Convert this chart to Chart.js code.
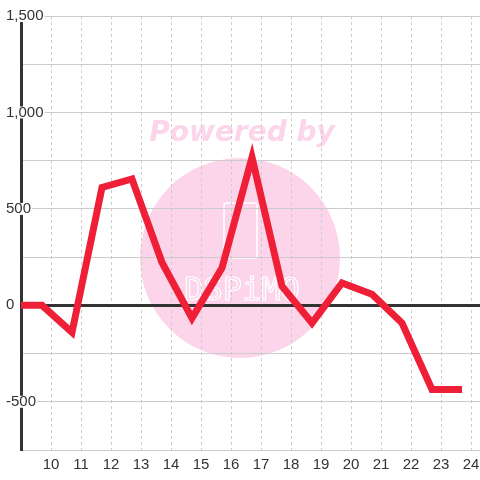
<!DOCTYPE html>
<html>
<head>
<meta charset="utf-8">
<style>
  html, body { margin: 0; padding: 0; background: #fff; }
  #wrap { width: 480px; height: 480px; }
</style>
<script src="https://cdn.jsdelivr.net/npm/chart.js@4.4.1/dist/chart.umd.min.js"></script>
</head>
<body>
<div id="wrap"><canvas id="chart" width="480" height="480"></canvas></div>
<script>
  // values
  const xValues = [9, 9.7, 10.7, 11.7, 12.7, 13.7, 14.7, 15.7, 16.7, 17.7, 18.7, 19.7, 20.7, 21.7, 22.7, 23.7];
  const yValues = [0, 0, -140, 611, 655, 222, -66, 194, 767, 99, -92, 116, 57, -92, -436, -436];
  const xTicks = [9, 10, 11, 12, 13, 14, 15, 16, 17, 18, 19, 20, 21, 22, 23, 24];
  const yTicks = [-750, -500, -250, 0, 250, 500, 750, 1000, 1250, 1500];
  const yLabelled = [-500, 0, 500, 1000, 1500];

  const LINE_COLOR = '#ee1f36';
  const TEXT_COLOR = '#333333';
  const GRID_COLOR = '#cccccc';
  const FONT = '"Liberation Sans", Arial, sans-serif';

  const watermark = {
    id: 'watermark',
    beforeDraw(chart) {
      const c = chart.ctx;
      c.save();
      c.fillStyle = '#fcd5ea';
      c.beginPath();
      c.arc(240, 258, 100, 0, Math.PI * 2);
      c.fill();
      c.font = 'italic bold 28px "DejaVu Sans"';
      c.textAlign = 'center';
      c.textBaseline = 'middle';
      c.fillText('Powered by', 242, 134);
      c.strokeStyle = '#ffffff';
      c.lineWidth = 1.5;
      c.beginPath();
      c.roundRect(224, 203, 33, 55, 3);
      c.stroke();
      c.font = '32px "DejaVu Sans Mono"';
      c.lineWidth = 1.2;
      c.strokeText('DSPiMO', 242, 292);
      c.restore();
    }
  };

  new Chart(document.getElementById('chart'), {
    type: 'line',
    data: {
      datasets: [{
        data: xValues.map((x, i) => ({ x, y: yValues[i] })),
        borderColor: LINE_COLOR,
        borderWidth: 7,
        borderJoinStyle: 'miter',
        borderCapStyle: 'butt',
        pointRadius: 0,
        tension: 0,
        fill: false,
      }],
    },
    options: {
      responsive: false,
      animation: false,
      events: [],
      layout: { padding: { left: 21, top: 16, right: 0, bottom: 0 } },
      plugins: { legend: { display: false }, tooltip: { enabled: false } },
      scales: {
        x: {
          type: 'linear',
          min: 9,
          max: 24.3,
          afterBuildTicks: s => { s.ticks = xTicks.map(v => ({ value: v })); },
          afterFit: s => { s.paddingLeft = 0; s.paddingRight = 0; },
          border: { display: false, dash: [3, 3] },
          grid: { color: GRID_COLOR, lineWidth: 1, drawTicks: false },
          ticks: {
            color: TEXT_COLOR,
            font: { family: FONT, size: 15 },
            padding: 6,
            maxRotation: 0,
            autoSkip: false,
            callback: v => (v === 9 ? '' : String(v)),
          },
        },
        y: {
          type: 'linear',
          min: -750,
          max: 1500,
          afterBuildTicks: s => { s.ticks = yTicks.map(v => ({ value: v })); },
          // mirrored labels: keep the axis box at zero width so the border sits at x=21
          afterFit: s => { s.width = 0; },
          border: { display: true, color: TEXT_COLOR, width: 3 },
          grid: {
            drawTicks: false,
            color: ctx => (ctx.tick && ctx.tick.value === 0 ? TEXT_COLOR : GRID_COLOR),
            lineWidth: ctx => (ctx.tick && ctx.tick.value === 0 ? 3 : 1),
          },
          ticks: {
            mirror: true,
            padding: -15,
            color: TEXT_COLOR,
            font: { family: FONT, size: 15 },
            showLabelBackdrop: ctx => yLabelled.includes(ctx.tick.value),
            backdropColor: '#ffffff',
            backdropPadding: { left: 1, right: 1, top: -3, bottom: -3 },
            autoSkip: false,
            callback: v => (yLabelled.includes(v) ? v.toLocaleString('en-US') : ''),
          },
        },
      },
    },
    plugins: [watermark],
  });
</script>
</body>
</html>
